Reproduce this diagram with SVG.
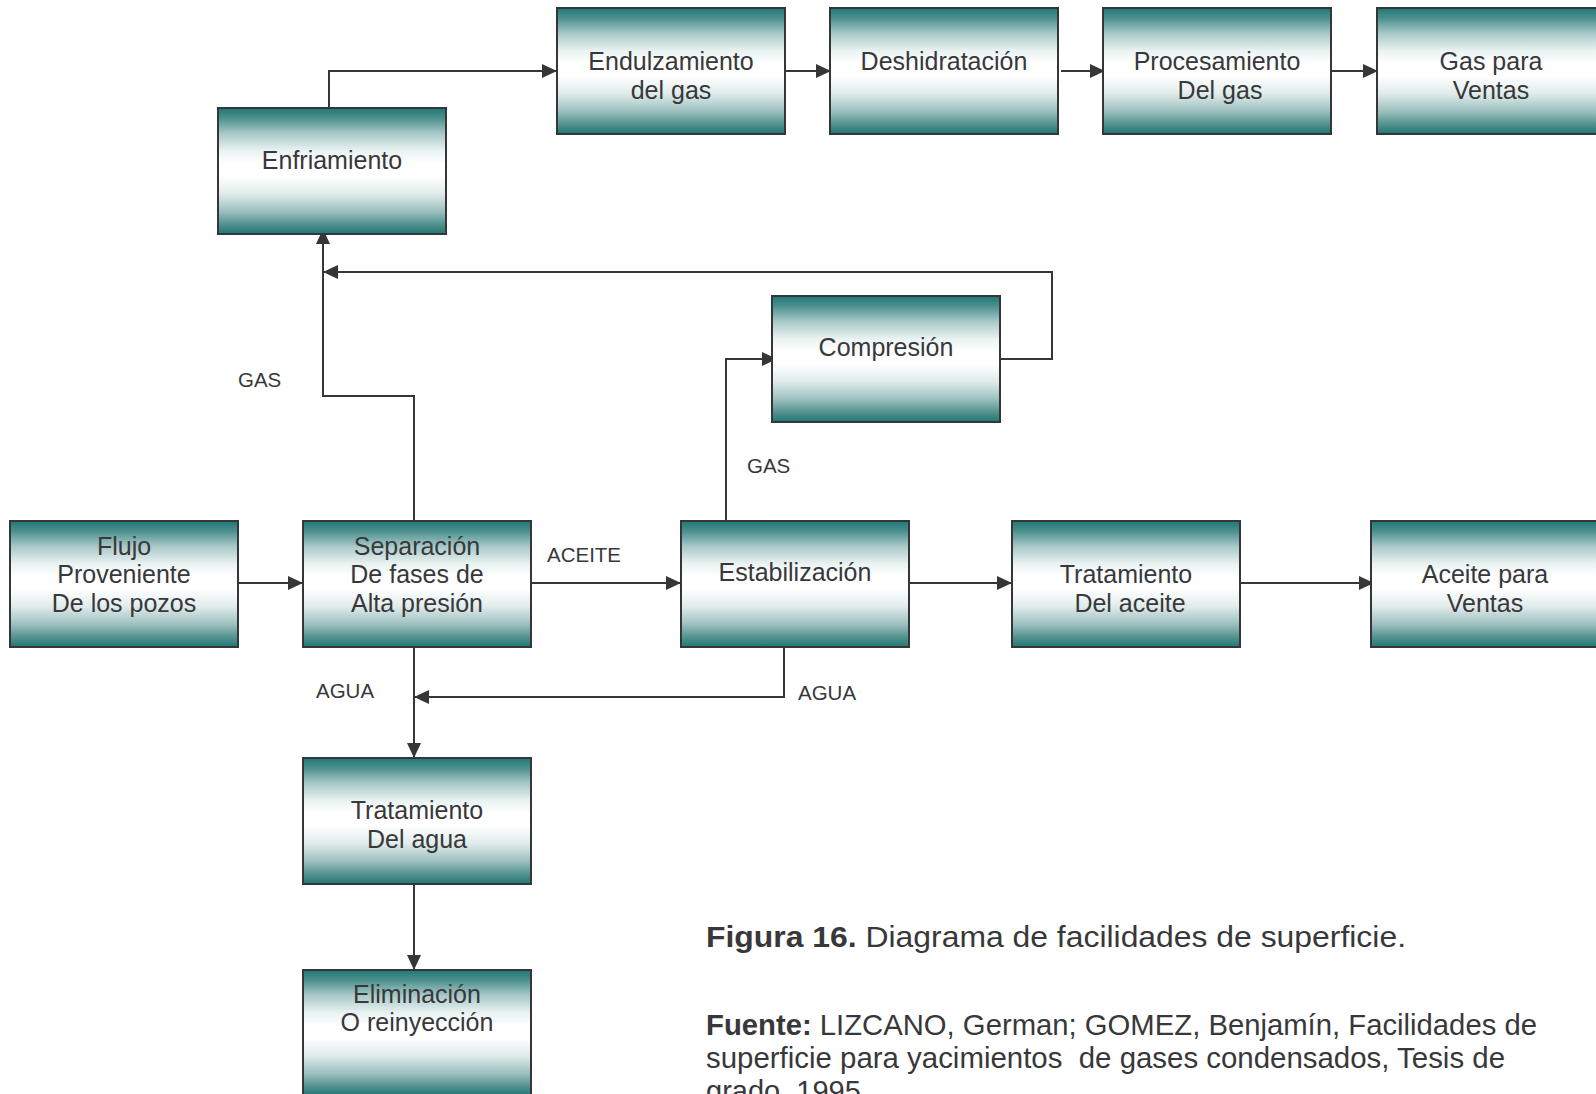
<svg xmlns="http://www.w3.org/2000/svg" width="1596" height="1094" viewBox="0 0 1596 1094">
  <style>
    .box { fill: url(#teal); stroke: #363638; stroke-width: 2; }
    .nt { font-family: "Liberation Sans", Arial, sans-serif; font-size: 25px; fill: #38383a; text-anchor: middle; }
    .lbl { font-family: "Liberation Sans", Arial, sans-serif; font-size: 20.5px; fill: #38383a; }
    .cap { font-family: "Liberation Sans", Arial, sans-serif; font-size: 29px; fill: #38383a; white-space: pre; }
    .b { font-weight: bold; }
    .conn path { fill: none; stroke: #363638; stroke-width: 2; marker-end: url(#arrow); }
    .conn path.plain { marker-end: none; }
  </style>
  <defs>
    <linearGradient id="teal" x1="0" y1="0" x2="0" y2="1">
      <stop offset="0" stop-color="#1f7775"/>
      <stop offset="0.08" stop-color="#4b908e"/>
      <stop offset="0.2" stop-color="#a7c8c7"/>
      <stop offset="0.34" stop-color="#eaf2f2"/>
      <stop offset="0.44" stop-color="#ffffff"/>
      <stop offset="0.54" stop-color="#ffffff"/>
      <stop offset="0.68" stop-color="#e0ebeb"/>
      <stop offset="0.82" stop-color="#9cc0bf"/>
      <stop offset="0.92" stop-color="#54938f"/>
      <stop offset="1" stop-color="#1f7775"/>
    </linearGradient>
    <marker id="arrow" viewBox="0 0 15 14" refX="15" refY="7" markerWidth="15" markerHeight="14" markerUnits="userSpaceOnUse" orient="auto">
      <path d="M0,0 L15,7 L0,14 z" fill="#363638"/>
    </marker>
  </defs>
  <rect width="1596" height="1094" fill="#ffffff"/>

  <g id="connectors" class="conn">
    <path d="M329,108 V71 H557"/>
    <path d="M785,71 H831"/>
    <path d="M1061,71 H1105"/>
    <path d="M1332,71 H1378"/>
    <path d="M238,583 H303"/>
    <path d="M531,583 H681"/>
    <path d="M909,583 H1012"/>
    <path d="M1233,583 H1374"/>
    <path d="M414,521 V396 H323 V229"/>
    <path d="M1000,359 H1052 V272 H323"/>
    <path d="M726,521 V359 H777"/>
    <path d="M784,647 V697 H414"/>
    <path d="M414,647 V758"/>
    <path d="M414,884 V970"/>
  </g>

  <g id="enfriamiento">
    <rect class="box" x="218" y="108" width="228" height="126"/>
    <text class="nt" x="332" y="169">Enfriamiento</text>
  </g>
  <g id="endulzamiento">
    <rect class="box" x="557" y="8" width="228" height="126"/>
    <text class="nt" x="671" y="70">Endulzamiento</text>
    <text class="nt" x="671" y="99">del gas</text>
  </g>
  <g id="deshidratacion">
    <rect class="box" x="830" y="8" width="228" height="126"/>
    <text class="nt" x="944" y="70">Deshidratación</text>
  </g>
  <g id="procesamiento">
    <rect class="box" x="1103" y="8" width="228" height="126"/>
    <text class="nt" x="1217" y="70">Procesamiento</text>
    <text class="nt" x="1220" y="99">Del gas</text>
  </g>
  <g id="gas-ventas">
    <rect class="box" x="1377" y="8" width="228" height="126"/>
    <text class="nt" x="1491" y="70">Gas para</text>
    <text class="nt" x="1491" y="99">Ventas</text>
  </g>
  <g id="compresion">
    <rect class="box" x="772" y="296" width="228" height="126"/>
    <text class="nt" x="886" y="356">Compresión</text>
  </g>
  <g id="flujo">
    <rect class="box" x="10" y="521" width="228" height="126"/>
    <text class="nt" x="124" y="555">Flujo</text>
    <text class="nt" x="124" y="583">Proveniente</text>
    <text class="nt" x="124" y="612">De los pozos</text>
  </g>
  <g id="separacion">
    <rect class="box" x="303" y="521" width="228" height="126"/>
    <text class="nt" x="417" y="555">Separación</text>
    <text class="nt" x="417" y="583">De fases de</text>
    <text class="nt" x="417" y="612">Alta presión</text>
  </g>
  <g id="estabilizacion">
    <rect class="box" x="681" y="521" width="228" height="126"/>
    <text class="nt" x="795" y="581">Estabilización</text>
  </g>
  <g id="tratamiento-aceite">
    <rect class="box" x="1012" y="521" width="228" height="126"/>
    <text class="nt" x="1126" y="583">Tratamiento</text>
    <text class="nt" x="1130" y="612">Del aceite</text>
  </g>
  <g id="aceite-ventas">
    <rect class="box" x="1371" y="521" width="228" height="126"/>
    <text class="nt" x="1485" y="583">Aceite para</text>
    <text class="nt" x="1485" y="612">Ventas</text>
  </g>
  <g id="tratamiento-agua">
    <rect class="box" x="303" y="758" width="228" height="126"/>
    <text class="nt" x="417" y="819">Tratamiento</text>
    <text class="nt" x="417" y="848">Del agua</text>
  </g>
  <g id="eliminacion">
    <rect class="box" x="303" y="970" width="228" height="126"/>
    <text class="nt" x="417" y="1003">Eliminación</text>
    <text class="nt" x="417" y="1031">O reinyección</text>
  </g>

  <g id="labels">
    <text class="lbl" x="238" y="387">GAS</text>
    <text class="lbl" x="547" y="562">ACEITE</text>
    <text class="lbl" x="747" y="473">GAS</text>
    <text class="lbl" x="316" y="698">AGUA</text>
    <text class="lbl" x="798" y="700">AGUA</text>
  </g>

  <g id="caption">
    <text class="cap" x="706" y="947" textLength="700" lengthAdjust="spacingAndGlyphs"><tspan class="b">Figura 16.</tspan> Diagrama de facilidades de superficie.</text>
    <text class="cap" x="706" y="1035" textLength="831" lengthAdjust="spacingAndGlyphs"><tspan class="b">Fuente:</tspan> LIZCANO, German; GOMEZ, Benjamín, Facilidades de</text>
    <text class="cap" x="706" y="1068" textLength="799" lengthAdjust="spacingAndGlyphs">superficie para yacimientos  de gases condensados, Tesis de</text>
    <text class="cap" x="706" y="1101">grado, 1995.</text>
  </g>
</svg>
